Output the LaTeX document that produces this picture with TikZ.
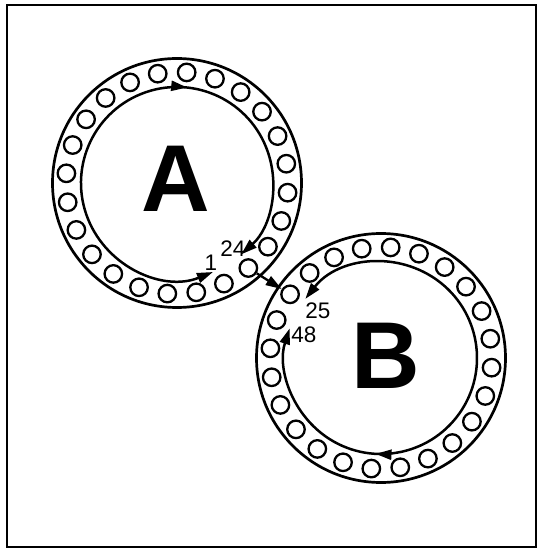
\documentclass[tikz,border=0pt]{standalone}
\usepackage{fontspec}
\setmainfont{Liberation Sans}
\usetikzlibrary{arrows.meta,decorations.markings}
\begin{document}
\begin{tikzpicture}[x=1pt,y=1pt,
  >={Triangle[length=16pt,width=10pt]},
  bigring/.style={circle,draw,line width=2.7pt,inner sep=0pt,minimum size=249pt},
  innerring/.style={line width=2.5pt},
  bead/.style={circle,draw,line width=2.3pt,inner sep=0pt,minimum size=17.5pt},
  num/.style={inner sep=0pt,font=\fontsize{22.5}{22.5}\selectfont},
  big/.style={inner sep=0pt,font=\fontsize{95}{95}\selectfont\bfseries}]
\useasboundingbox (0,0) rectangle (543,552);
\draw[line width=2.7pt] (7,5) rectangle (536,547);
\coordinate (A) at (177,369);
\coordinate (B) at (381,194);
\node[bigring] (Aout) at (A) {};
\node[bigring] (Bout) at (B) {};
\foreach \k in {0,...,23} {
  \node[bead] (a\k) at ([shift={({10+15*\k}:111)}]A) {};
  \node[bead] (b\k) at ([shift={({10+15*\k}:111)}]B) {};
}
% inner flow rings
\draw[innerring,<->] ([shift={(-68:96)}]A) arc[start angle=-68,end angle=-408,radius=96];
\path[decorate,decoration={markings,mark=at position 0.612 with {\arrow[line width=2.5pt]{>}}}]
  ([shift={(-68:96)}]A) arc[start angle=-68,end angle=-408,radius=96];
\draw[innerring,<->] ([shift={(142:96)}]B) arc[start angle=142,end angle=-198,radius=96];
\path[decorate,decoration={markings,mark=at position 0.692 with {\arrow[line width=2.5pt]{>}}}]
  ([shift={(142:96)}]B) arc[start angle=142,end angle=-198,radius=96];
% connector
\draw[line width=2.3pt,->] (a20) -- (b9);
% labels
\node[num] (l1) at (211,289) {1};
\node[num] (l24) at (233,303) {24};
\node[num] (l25) at (318,241) {25};
\node[num] (l48) at (304,217) {48};
\node[big] (la) at (176,373) {A};
\node[big] (lb) at (386,196) {B};
\end{tikzpicture}
\end{document}
